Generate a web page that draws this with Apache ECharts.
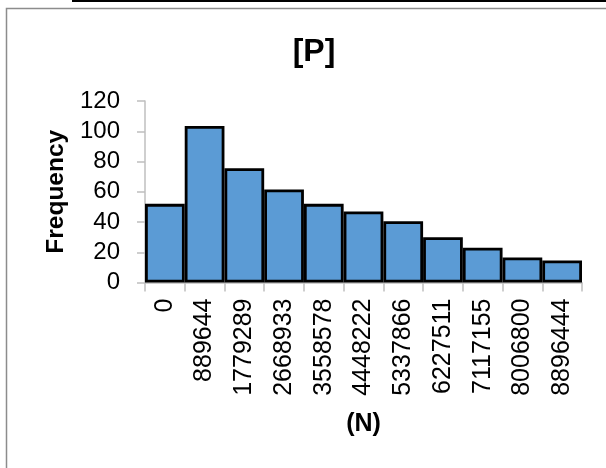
<!DOCTYPE html>
<html>
<head>
<meta charset="utf-8">
<script src="https://cdn.jsdelivr.net/npm/echarts@6/dist/echarts.min.js"></script>
<style>
html,body{margin:0;padding:0;background:#fff;}
#chart{width:606px;height:468px;}
</style>
</head>
<body>
<div id="chart"></div>
<script>
const categories = ["0","889644","1779289","2668933","3558578","4448222","5337866","6227511","7117155","8006800","8896444"];
const frequency = [52, 103.5, 75.5, 61.5, 52, 47, 40.5, 30, 23, 16.5, 14.5];
const yTicks = {min: 0, max: 120, interval: 20};
const titleText = "[P]";
const xName = "(N)";
const yName = "Frequency";

const chart = echarts.init(document.getElementById('chart'), null, {renderer: 'canvas'});
const font = "'Liberation Sans', Arial, sans-serif";
chart.setOption({
  animation: false,
  backgroundColor: '#fff',
  title: {
    text: titleText,
    left: 309, top: 31, textAlign: 'center',
    textStyle: {fontFamily: font, fontWeight: 'bold', fontSize: 32, color: '#000'}
  },
  graphic: [
    {type: 'rect', shape: {x: 72, y: -2, width: 540, height: 4}, style: {fill: '#000'}},
    {type: 'rect', shape: {x: 6.5, y: 8.5, width: 620, height: 480}, style: {fill: 'none', stroke: '#8c8c8c', lineWidth: 1.5}}
  ],
  grid: {left: 145, right: 24, top: 101, bottom: 185.5, containLabel: false},
  xAxis: {
    type: 'category',
    data: categories,
    boundaryGap: true,
    name: xName,
    nameLocation: 'middle',
    nameGap: 129,
    nameTextStyle: {fontFamily: font, fontWeight: 'bold', fontSize: 25, color: '#000'},
    axisLine: {lineStyle: {color: '#bfbfbf', width: 1.5}},
    axisTick: {show: true, length: 9, alignWithLabel: false, lineStyle: {color: '#bfbfbf', width: 1.5}},
    axisLabel: {rotate: 90, margin: 16, interval: 0, fontFamily: font, fontSize: 25, color: '#000'},
    splitLine: {show: false}
  },
  yAxis: {
    type: 'value',
    min: yTicks.min, max: yTicks.max, interval: yTicks.interval,
    name: yName,
    nameLocation: 'middle',
    nameGap: 72,
    nameTextStyle: {fontFamily: font, fontWeight: 'bold', fontSize: 24.5, color: '#000'},
    axisLine: {show: true, lineStyle: {color: '#bfbfbf', width: 1.5}},
    axisTick: {show: true, length: 8, lineStyle: {color: '#bfbfbf', width: 1.5}},
    axisLabel: {margin: 25, fontFamily: font, fontSize: 24, color: '#000'},
    splitLine: {show: false}
  },
  series: [{
    type: 'bar',
    data: frequency,
    barCategoryGap: '0%',
    itemStyle: {color: '#5B9BD5', borderColor: '#000', borderWidth: 2.8}
  }]
});
</script>
</body>
</html>
